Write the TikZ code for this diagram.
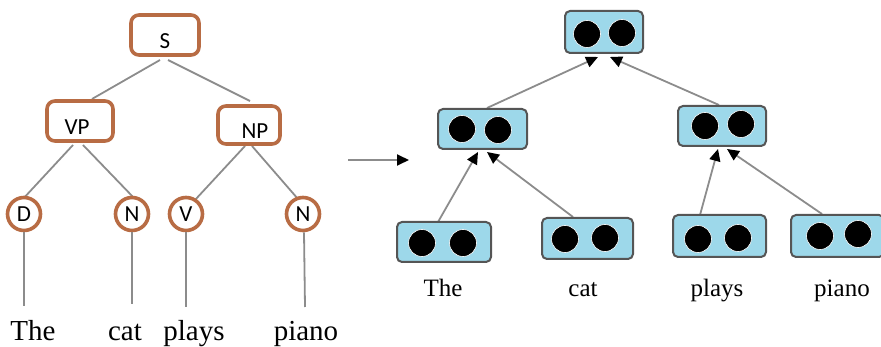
\documentclass[tikz,border=0pt]{standalone}
\usepackage{fontspec}
\setmainfont{Liberation Serif}
\newfontfamily\labelfont{Carlito}
\usetikzlibrary{arrows.meta}
\definecolor{bark}{HTML}{B86C44}
\definecolor{cellblue}{HTML}{9DD8EA}
\definecolor{edgegray}{HTML}{8C8C8C}
\definecolor{rimgray}{HTML}{555555}
\tikzset{
  catbox/.style={draw=bark, line width=3.6pt, rounded corners=8pt, fill=white},
  catdot/.style={circle, draw=bark, line width=3.6pt, fill=white, inner sep=0pt,
                 minimum width=31pt, minimum height=33pt},
  catlbl/.style={font=\labelfont\fontsize{23}{23}\selectfont, inner sep=0pt},
  treeedge/.style={draw=edgegray, line width=1.8pt},
  wordL/.style={font=\fontsize{29}{29}\selectfont, inner sep=0pt, anchor=base},
  wordR/.style={font=\fontsize{25}{25}\selectfont, inner sep=0pt, anchor=base},
  vecbox/.style={draw=rimgray, line width=2pt, rounded corners=5pt, fill=cellblue},
  neuron/.style={circle, fill=black, draw=white, line width=0.6pt, inner sep=0pt, minimum size=27pt},
  tipblack/.style={-{Triangle[length=12pt,width=11pt,black]}},
  upedge/.style={draw=edgegray, line width=1.8pt, tipblack},
}
\begin{document}
\begin{tikzpicture}[x=1pt,y=-1pt]
\useasboundingbox (0,0) rectangle (881,347);

% ---------- parse tree ----------
\coordinate (sBL) at (160,60);
\coordinate (sBR) at (168,60);
\draw[treeedge] (sBL) -- (92,99);
\draw[treeedge] (sBR) -- (250,101);
\draw[treeedge] (73,145) -- (22,200);
\draw[treeedge] (83,145) -- (135,199);
\draw[treeedge] (245,146) -- (195,200);
\draw[treeedge] (252,146) -- (298,199);

\draw[catbox] (131,15) rectangle (199,55);
\node[catlbl] (S) at (165,41) {S};
\draw[catbox] (47,101) rectangle (113,141);
\node[catlbl] (VP) at (77,127) {VP};
\draw[catbox] (218,106) rectangle (280,144);
\node[catlbl] (NP) at (255,131) {NP};

\node[catdot] (D) at (24,214) {};
\node[catlbl] at (D) {D};
\node[catdot] (N1) at (132,214) {};
\node[catlbl] at (N1) {N};
\node[catdot] (V) at (186,214) {};
\node[catlbl] at (V) {V};
\node[catdot] (N2) at (303,214) {};
\node[catlbl] at (N2) {N};

\coordinate (eD) at (24,306);
\coordinate (eN1) at (132,304);
\coordinate (eV) at (186,307);
\coordinate (eN2) at (305,307);
\draw[treeedge] (D.south) -- (eD);
\draw[treeedge] (N1.south) -- (eN1);
\draw[treeedge] (V.south) -- (eV);
\draw[treeedge] (N2.south) ++(1,0) -- (eN2);

\node[wordL] (wThe) at (33,341) {The};
\node[wordL] (wCat) at (125,341) {cat};
\node[wordL] (wPlays) at (194,341) {plays};
\node[wordL] (wPiano) at (306,341) {piano};

% ---------- transition arrow ----------
\coordinate (arrA) at (348,160);
\coordinate (arrB) at (409,160);
\draw[draw=edgegray, line width=1.8pt, tipblack] (arrA) -- (arrB);

% ---------- vector tree ----------
\draw[upedge] (487,108) -- (598,57);
\draw[upedge] (719,105) -- (610,57);
\draw[upedge] (438,222) -- (478,152);
\draw[upedge] (573,217) -- (487,152);
\draw[upedge] (700,215) -- (718,149);
\draw[upedge] (822,214) -- (727,149);

\draw[vecbox] (565,11) rectangle (643,53);
\node[neuron] (r1) at (587,34) {};
\node[neuron] (r2) at (622,33) {};

\draw[vecbox] (438,109) rectangle (527,149);
\node[neuron] (a1) at (462,129) {};
\node[neuron] (a2) at (498,130) {};

\draw[vecbox] (678,106) rectangle (766,146);
\node[neuron] (b1) at (705,126) {};
\node[neuron] (b2) at (741,124) {};

\draw[vecbox] (397,222) rectangle (491,262);
\node[neuron] (c1) at (422,243) {};
\node[neuron] (c2) at (463,243) {};

\draw[vecbox] (542,218) rectangle (633,259);
\node[neuron] (d1) at (565,239) {};
\node[neuron] (d2) at (605,238) {};

\draw[vecbox] (673,215) rectangle (766,257);
\node[neuron] (e1) at (698,239) {};
\node[neuron] (e2) at (738,238) {};

\draw[vecbox] (791,215) rectangle (884,257);
\node[neuron] (f1) at (820,236) {};
\node[neuron] (f2) at (858,234) {};

\node[wordR] (vThe) at (443,297) {The};
\node[wordR] (vCat) at (583,297) {cat};
\node[wordR] (vPlays) at (717,297) {plays};
\node[wordR] (vPiano) at (842,297) {piano};
\end{tikzpicture}
\end{document}
